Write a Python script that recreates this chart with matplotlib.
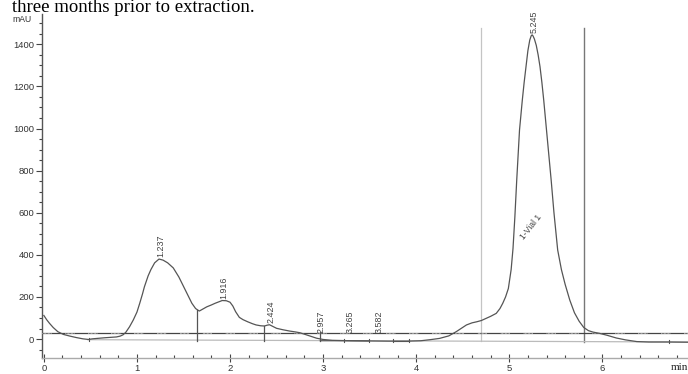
import numpy as np
import matplotlib
matplotlib.use("Agg")
import matplotlib.pyplot as plt
from matplotlib.ticker import MultipleLocator

# Chromatogram trace (retention time in min, absorbance in mAU)
time_min = [0.00, 0.03, 0.06, 0.10, 0.15, 0.21, 0.28, 0.35, 0.42, 0.48, 0.52, 0.57,
            0.65, 0.72, 0.78, 0.82, 0.85, 0.88, 0.92, 0.96, 1.00, 1.03, 1.06, 1.08,
            1.12, 1.15, 1.19, 1.237, 1.28, 1.33, 1.39, 1.45, 1.50, 1.55, 1.59, 1.63,
            1.67, 1.71, 1.75, 1.80, 1.84, 1.88, 1.916, 1.96, 2.00, 2.03, 2.06, 2.10,
            2.14, 2.19, 2.24, 2.28, 2.33, 2.37, 2.40, 2.424, 2.46, 2.50, 2.57, 2.64,
            2.70, 2.75, 2.80, 2.86, 2.93, 3.00, 3.10, 3.30, 3.50, 3.70, 3.90, 4.05,
            4.15, 4.25, 4.35, 4.43, 4.50, 4.54, 4.60, 4.65, 4.70, 4.75, 4.80, 4.86,
            4.90, 4.93, 4.96, 4.99, 5.02, 5.04, 5.06, 5.08, 5.11, 5.14, 5.16, 5.18,
            5.20, 5.22, 5.235, 5.245, 5.255, 5.27, 5.29, 5.31, 5.33, 5.35, 5.37,
            5.40, 5.425, 5.45, 5.48, 5.52, 5.56, 5.60, 5.65, 5.70, 5.75, 5.80,
            5.85, 5.90, 5.97, 6.05, 6.15, 6.25, 6.37, 6.50, 6.70, 6.92]
absorbance = [112, 92, 75, 55, 35, 22, 14, 7, 1, -2, 1, 3,
              6, 8, 10, 14, 20, 32, 58, 90, 128, 170, 215, 248,
              300, 330, 362, 380, 375, 362, 338, 295, 250, 205, 170, 145,
              133, 143, 153, 162, 170, 177, 183, 182, 175, 157, 130, 103,
              92, 82, 73, 67, 63, 62, 66, 68, 60, 51, 44, 38,
              34, 30, 23, 14, 4, -2, -6, -8, -9, -10, -10, -8,
              -3, 3, 15, 35, 55, 67, 77, 82, 88, 98, 108, 122,
              145, 170, 200, 240, 330, 430, 580, 755, 993, 1135, 1220, 1294,
              1370, 1420, 1440, 1445, 1440, 1425, 1395, 1350, 1294, 1220, 1135,
              993, 870, 755, 600, 423, 330, 260, 185, 125, 85, 55,
              40, 33, 27, 18, 5, -4, -12, -14, -14, -15]

# Integrated peaks: retention times shown above the trace
peak_rt = [1.237, 1.916, 2.424, 2.957, 3.265, 3.582, 5.245]
peak_text = ["1.237", "1.916", "2.424", "2.957", "3.265", "3.582", "5.245"]

# Integration events
drop_lines = [1.65, 2.37]
event_ticks = [0.48, 3.22, 3.49, 3.75, 3.92, 6.72]
threshold_level = 30
window_start, window_end = 4.70, 5.80

x_ticks = [0, 1, 2, 3, 4, 5, 6]
y_ticks = [0, 200, 400, 600, 800, 1000, 1200, 1400]

W, H = 688, 374
fig = plt.figure(figsize=(W / 100, H / 100), dpi=100)
ax = fig.add_axes([42 / W, 16 / H, (W - 42) / W, 344 / H])
ax.set_xlim(-0.02, 6.92)
ax.set_ylim(-90, 1544)

trace_col = "#555555"
ax.plot(time_min, absorbance, color=trace_col, lw=0.9, zorder=4)

# threshold line: dark with dotted stretches
ax.axhline(threshold_level, color="#444444", lw=0.9, zorder=2)
ax.axhline(threshold_level, color="white", lw=0.5,
           linestyle=(0, (1, 1, 1, 1, 1, 1, 1, 1, 1, 1, 1, 1, 1, 20)), zorder=3)

# integration baseline
ax.plot([0.47, 6.92], [-3, -14], color="#bbbbbb", lw=0.9, zorder=2)
ax.plot([2.97, 3.22, 3.49], [-8, -8, -9], color="#555555", lw=0.8, zorder=3)
ax.plot([3.75, 3.92], [-11, -11], color="#555555", lw=0.8, zorder=3)

# drop lines between unresolved peaks
for t in drop_lines:
    top = np.interp(t, time_min, absorbance)
    base = -3 + (t - 0.47) * (-11 / 6.45)
    ax.plot([t, t], [base - 3, top], color="#555555", lw=0.9, zorder=3)
ax.plot([2.97, 2.97], [-8, 35], color="#555555", lw=0.9, zorder=3)
for t in event_ticks:
    base = -3 + (t - 0.47) * (-11 / 6.45)
    ax.plot([t, t], [base - 6, base + 8], color="#555555", lw=0.8, zorder=3)

# integration window markers
ax.plot([window_start, window_start], [-8, 1477], color="#c4c4c4", lw=0.9, zorder=1)
ax.plot([window_end, window_end], [-15, 1477], color="#777777", lw=1.0, zorder=1)

# retention-time labels
for rt, txt in zip(peak_rt, peak_text):
    y = max(np.interp(rt, time_min, absorbance), 22) + 8
    ax.text(rt + 0.02, y, txt, rotation=90, ha="center", va="bottom",
            fontsize=6.4, color="#444444", family="Liberation Sans")

ax.text(5.23, 530, "1-Vial 1", rotation=52, ha="center", va="center",
        fontsize=6.2, color="#444444", family="Liberation Sans")

# axes styling
for s in ["top", "right"]:
    ax.spines[s].set_visible(False)
ax.spines["left"].set_color("#555555")
ax.spines["left"].set_linewidth(1.0)
ax.spines["bottom"].set_color("#aaaaaa")
ax.spines["bottom"].set_linewidth(1.0)
ax.set_xticks(x_ticks)
ax.set_yticks(y_ticks)
ax.xaxis.set_minor_locator(MultipleLocator(0.2))
ax.yaxis.set_minor_locator(MultipleLocator(50))
ax.tick_params(axis="x", which="major", direction="inout", length=6, width=0.8,
               color="#444444", labelsize=6.8, labelcolor="#333333", pad=1)
ax.tick_params(axis="x", which="minor", direction="in", length=2.5, width=0.8,
               color="#444444")
ax.tick_params(axis="y", which="major", direction="out", length=4, width=0.8,
               color="#444444", labelsize=6.8, labelcolor="#333333", pad=1.5)
ax.tick_params(axis="y", which="minor", direction="out", length=2, width=0.8,
               color="#444444")
for lbl in ax.get_xticklabels() + ax.get_yticklabels():
    lbl.set_family("Liberation Sans")

fig.text(12 / W, 1 - 20 / H, "mAU", fontsize=6.2, color="#333333",
         family="Liberation Sans", ha="left", va="center")
fig.text(1.0, 1 - 368 / H, "min", fontsize=8, color="#222222",
         family="Liberation Serif", ha="right", va="center")
fig.text(12 / W, 1 - 12 / H, "three months prior to extraction.", fontsize=13.5,
         color="black", family="Liberation Serif", ha="left", va="baseline")

fig.savefig("out.png", dpi=100)
